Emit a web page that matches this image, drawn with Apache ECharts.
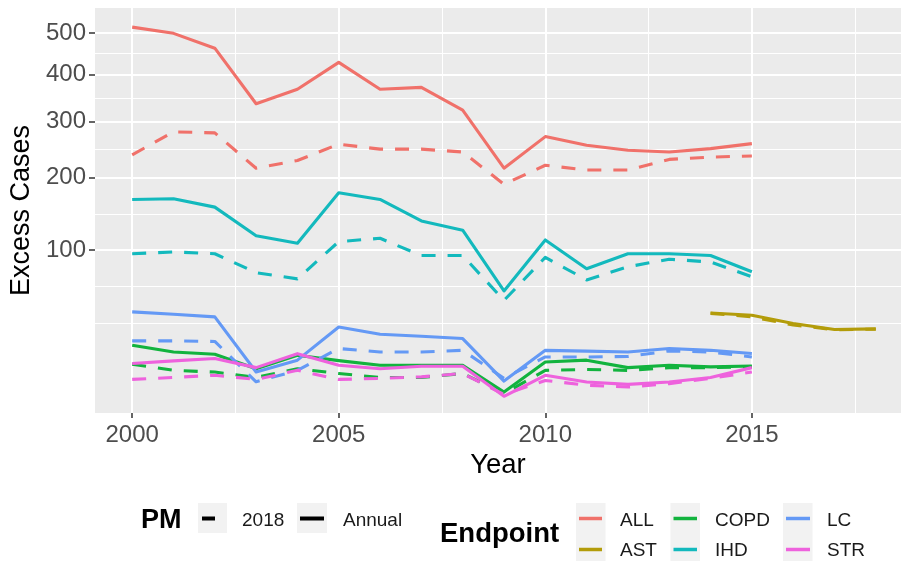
<!DOCTYPE html>
<html><head><meta charset="utf-8">
<script src="https://cdn.jsdelivr.net/npm/echarts@6/dist/echarts.min.js"></script>
<style>html,body{margin:0;padding:0;background:#fff}#c{width:901px;height:561px}</style>
</head><body><div id="c"></div>
<script>
// ---- data ----
const years = [2000,2001,2002,2003,2004,2005,2006,2007,2008,2009,2010,2011,2012,2013,2014,2015];
const astYears = [2014,2015,2016,2017,2018];
const xTickLabels = [2000,2005,2010,2015];
const yTickLabels = [100,200,300,400,500];

const ALL_Annual = [515,499,462,336,367,428,367,371,323,215,271,255,246,243,249,258];
const ALL_2018   = [238,280,278,215,228,257,248,248,243,189,220,212,212,230,234,236];
const AST_Annual = [41.3,39.7,34.0,30.1,30.5];
const AST_2018   = [41.0,38.5,33.0,30.0,30.3];
const COPD_Annual= [21.1,17.7,16.6,10.6,16.2,13.8,11.9,11.9,11.9,3.7,13.2,14.0,11.0,11.9,11.3,11.6];
const COPD_2018  = [12.3,10.0,9.4,7.6,10.6,8.9,7.6,7.6,8.9,3.4,10.0,10.3,10.0,11.0,11.0,11.3];
const IHD_Annual = [166,167,155,117,108,176,166,136,124,59,112,80,96,96,94,77];
const IHD_2018   = [96,98,96,76,70,110,114,94,94,51,92,69,82,90,87,72];
const LC_Annual  = [42.1,40.4,38.5,9.4,14.0,31.7,27.2,26.0,24.7,6.5,18.5,18.1,17.7,19.4,18.5,17.0];
const LC_2018    = [23.4,23.4,23.1,6.3,10.0,19.4,17.7,17.7,18.5,7.3,15.4,15.4,15.6,18.2,17.7,15.4];
const STR_Annual = [12.6,13.7,14.7,11.0,16.9,11.9,10.6,11.5,11.5,2.84,8.3,6.25,5.6,6.25,7.6,11.0];
const STR_2018   = [7.0,7.6,8.3,7.0,10.0,7.0,7.3,7.8,8.9,3.2,6.7,5.35,4.9,5.8,7.3,9.4];

const endpoints = ['ALL','AST','COPD','IHD','LC','STR'];
const colors = {ALL:'#F0716A', AST:'#B39C0A', COPD:'#12B33E', IHD:'#13B9BD', LC:'#6499F5', STR:'#EE62DD'};
const seriesDefs = [
  ['ALL', years, ALL_2018, ALL_Annual],
  ['AST', astYears, AST_2018, AST_Annual],
  ['COPD', years, COPD_2018, COPD_Annual],
  ['IHD', years, IHD_2018, IHD_Annual],
  ['LC', years, LC_2018, LC_Annual],
  ['STR', years, STR_2018, STR_Annual]
];

// ---- sqrt-scale helpers (ECharts has no sqrt scale; plot sqrt(value)) ----
const tr = v => Math.sqrt(v);
const yMajor = yTickLabels.map(tr);
const yMinor = (() => {
  const b = yMajor.slice(); const bd = b[1]-b[0];
  const ext = [b[0]-bd].concat(b);
  const out = [ext[0]];
  for (let i=0;i<ext.length-1;i++) out.push((ext[i]+ext[i+1])/2);
  return out;
})();
const xMinor = [2002.5,2007.5,2012.5,2017.5];

const FONT = 'Liberation Sans, Arial, Helvetica, sans-serif';
const series = [];
seriesDefs.forEach(([name, xs, v18, vAnn]) => {
  [['2018', v18, 'dashed'], ['Annual', vAnn, 'solid']].forEach(([pm, vals, ls]) => {
    series.push({
      name: name + ' ' + pm, type: 'line', xAxisIndex: 0, yAxisIndex: 0,
      data: xs.map((x,i) => [x, tr(vals[i])]),
      showSymbol: false, symbol: 'none', silent: true, animation: false,
      lineStyle: { color: colors[name], width: 3.1, type: ls === 'dashed' ? [14,12] : 'solid', cap: 'butt', join: 'round' }
    });
  });
});

const XMIN = 1999.1, XMAX = 2018.61, YMIN = 0.735, YMAX = 23.78;

const chart = echarts.init(document.getElementById('c'), null, {renderer:'canvas'});
const txt = (text, x, y, size, bold, fill) => ({type:'text', style:{text, x, y, font:(bold?'bold ':'')+size+'px '+FONT, fill: fill||'#1a1a1a', verticalAlign:'middle', align:'left'}});
const keyRect = (x, y, w, h) => ({type:'rect', shape:{x, y, width:w, height:h}, style:{fill:'#F2F2F2'}});
const keyLine = (x1, x2, y, color, w, dash) => ({type:'line', shape:{x1, y1:y, x2, y2:y}, style:{stroke:color, lineWidth:w, lineDash: dash || null}});

const graphic = [
  txt('PM', 141, 520.5, 27, true, '#000'),
  keyRect(198, 503, 29, 30), keyLine(202, 226, 518.5, '#000', 4, [13,13]),
  txt('2018', 242, 520.5, 19, false),
  keyRect(297, 503, 30, 30), keyLine(300, 324, 518.5, '#000', 4),
  txt('Annual', 343, 520.5, 19, false),
  txt('Endpoint', 440, 534.5, 27.5, true, '#000'),
  keyRect(576, 503, 29.5, 61), keyRect(670.5, 503, 29.5, 61), keyRect(783, 503, 29.5, 61),
  keyLine(579, 602, 518.5, colors.ALL, 3.5), keyLine(579, 602, 549.5, colors.AST, 3.5),
  keyLine(673.5, 697, 518.5, colors.COPD, 3.5), keyLine(673.5, 697, 549.5, colors.IHD, 3.5),
  keyLine(786, 810, 518.5, colors.LC, 3.5), keyLine(786, 810, 549.5, colors.STR, 3.5),
  txt('ALL', 620, 521, 19, false), txt('AST', 620, 550.5, 19, false),
  txt('COPD', 715, 521, 19, false), txt('IHD', 715, 550.5, 19, false),
  txt('LC', 827, 521, 19, false), txt('STR', 827, 550.5, 19, false)
];

const option = {
  animation: false,
  backgroundColor: '#fff',
  grid: { left: 95, top: 8, right: 0, bottom: 148, show: true, backgroundColor: '#EBEBEB', borderWidth: 0 },
  xAxis: [
    { type:'value', min:XMIN, max:XMAX, position:'bottom',
      axisLine:{show:false},
      axisTick:{show:true, length:5, lineStyle:{color:'#333', width:1.5}, customValues: xTickLabels},
      axisLabel:{show:true, customValues: xTickLabels, margin:10, fontSize:24, color:'#4D4D4D', fontFamily:FONT, formatter: v => String(v)},
      splitLine:{show:true, lineStyle:{color:'#fff', width:2}},
      name:'Year', nameLocation:'middle', nameGap:33, nameTextStyle:{fontSize:27.5, color:'#000', fontFamily:FONT}
    },
    { type:'value', min:XMIN, max:XMAX, position:'top', show:true,
      axisLine:{show:false}, axisLabel:{show:false},
      axisTick:{show:false, customValues: xMinor},
      splitLine:{show:true, lineStyle:{color:'#fff', width:1}}
    }
  ],
  yAxis: [
    { type:'value', min:YMIN, max:YMAX, position:'left',
      axisLine:{show:false},
      axisTick:{show:true, length:6, lineStyle:{color:'#333', width:1.5}, customValues: yMajor},
      axisLabel:{show:true, customValues: yMajor, margin:9, fontSize:24, color:'#4D4D4D', fontFamily:FONT, formatter: v => String(Math.round(v*v))},
      splitLine:{show:true, lineStyle:{color:'#fff', width:2}},
      name:'Excess Cases', nameLocation:'middle', nameGap:51, nameTextStyle:{fontSize:27, color:'#000', fontFamily:FONT}
    },
    { type:'value', min:YMIN, max:YMAX, position:'right', show:true,
      axisLine:{show:false}, axisLabel:{show:false},
      axisTick:{show:false, customValues: yMinor},
      splitLine:{show:true, lineStyle:{color:'#fff', width:1}}
    }
  ],
  series: series,
  graphic: graphic
};
chart.setOption(option);
</script></body></html>
